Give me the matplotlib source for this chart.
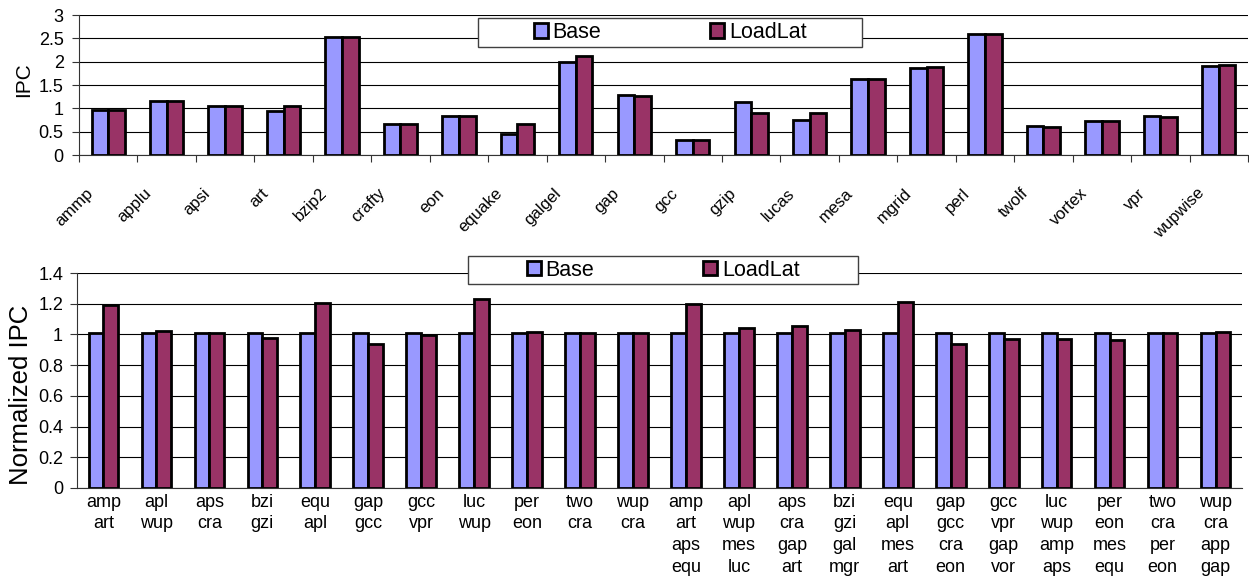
import matplotlib
matplotlib.use('Agg')
import matplotlib.pyplot as plt
import matplotlib.transforms as mtransforms
from matplotlib.patches import Patch, Rectangle
import numpy as np

plt.rcParams['font.family'] = ['Liberation Sans', 'DejaVu Sans']

base_color = '#9999ff'
lat_color = '#993366'

# Top chart: absolute IPC per benchmark
bench = ['ammp', 'applu', 'apsi', 'art', 'bzip2', 'crafty', 'eon', 'equake',
         'galgel', 'gap', 'gcc', 'gzip', 'lucas', 'mesa', 'mgrid', 'perl',
         'twolf', 'vortex', 'vpr', 'wupwise']
ipc_base = [0.96, 1.16, 1.05, 0.95, 2.52, 0.66, 0.84, 0.46, 1.99, 1.29,
            0.32, 1.13, 0.75, 1.63, 1.86, 2.60, 0.62, 0.73, 0.84, 1.91]
ipc_lat = [0.96, 1.16, 1.04, 1.06, 2.52, 0.66, 0.84, 0.66, 2.12, 1.27,
           0.32, 0.89, 0.91, 1.63, 1.88, 2.60, 0.61, 0.73, 0.81, 1.93]

# Bottom chart: normalized IPC per workload mix
mixes = ['amp\nart', 'apl\nwup', 'aps\ncra', 'bzi\ngzi', 'equ\napl',
         'gap\ngcc', 'gcc\nvpr', 'luc\nwup', 'per\neon', 'two\ncra',
         'wup\ncra',
         'amp\nart\naps\nequ', 'apl\nwup\nmes\nluc', 'aps\ncra\ngap\nart',
         'bzi\ngzi\ngal\nmgr', 'equ\napl\nmes\nart', 'gap\ngcc\ncra\neon',
         'gcc\nvpr\ngap\nvor', 'luc\nwup\namp\naps', 'per\neon\nmes\nequ',
         'two\ncra\nper\neon', 'wup\ncra\napp\ngap']
norm_base = [1.01] * 22
norm_lat = [1.194, 1.02, 1.01, 0.975, 1.205, 0.94, 0.996, 1.233, 1.018,
            1.007, 1.01, 1.20, 1.04, 1.057, 1.029, 1.213, 0.94, 0.97,
            0.97, 0.962, 1.007, 1.018]

W, H = 1249, 581
fig = plt.figure(figsize=(W / 100, H / 100), dpi=100)


def px_axes(x0, y0, x1, y1):
    return fig.add_axes([x0 / W, 1 - y1 / H, (x1 - x0) / W, (y1 - y0) / H])


def draw_bars(ax, base, lat, width):
    x = np.arange(len(base)) + 0.5
    kw = dict(edgecolor='black', linewidth=2.0, zorder=3)
    ax.bar(x - width / 2, base, width, color=base_color, **kw)
    ax.bar(x + width / 2, lat, width, color=lat_color, **kw)
    for s in ['top', 'right']:
        ax.spines[s].set_visible(False)
    ax.spines['left'].set_color('#333333')
    ax.spines['bottom'].set_color('#333333')
    ax.yaxis.grid(True, color='black', linewidth=0.8, zorder=0)
    ax.set_axisbelow(True)
    ax.set_xlim(0, len(base))
    return x


def legend_box(x0, y0, x1, y1, fontsize, colspace):
    fig.patches.append(Rectangle((x0 / W, 1 - y1 / H), (x1 - x0) / W,
                                 (y1 - y0) / H, transform=fig.transFigure,
                                 facecolor='white', edgecolor='#404040',
                                 linewidth=1.0, zorder=5))
    handles = [Patch(facecolor=base_color, edgecolor='black', linewidth=2.0),
               Patch(facecolor=lat_color, edgecolor='black', linewidth=2.0)]
    leg = fig.legend(handles, ['Base', 'LoadLat'], loc='center',
                     bbox_to_anchor=((x0 + x1) / 2 / W, 1 - (y0 + y1) / 2 / H),
                     ncol=2, frameon=False, fontsize=fontsize,
                     handlelength=0.65, handleheight=0.65,
                     handletextpad=0.2, columnspacing=colspace,
                     borderpad=0, borderaxespad=0)
    leg.set_zorder(6)


# ---- top chart ----
ax1 = px_axes(79, 15, 1248, 155)
x1 = draw_bars(ax1, ipc_base, ipc_lat, 0.285)
ax1.set_ylim(0, 3)
ax1.set_yticks([0, 0.5, 1, 1.5, 2, 2.5, 3])
ax1.set_yticklabels(['0', '0.5', '1', '1.5', '2', '2.5', '3'])
ax1.set_xticks(np.arange(len(bench) + 1))
ax1.set_xticklabels([])
ax1.set_xticks(x1, minor=True)
ax1.set_xticklabels(bench, minor=True, rotation=45, ha='right', va='top',
                    fontsize=12)
ax1.tick_params(axis='x', which='major', length=5, direction='out',
                color='#333333')
ax1.tick_params(axis='x', which='minor', length=0, pad=22)
ax1.tick_params(axis='y', length=5, pad=6, labelsize=13, color='#333333')
shift = mtransforms.ScaledTranslation(-0.12, 0, fig.dpi_scale_trans)
for lab in ax1.get_xticklabels(minor=True):
    lab.set_transform(lab.get_transform() + shift)
ax1.set_ylabel('IPC', fontsize=15)
ax1.yaxis.set_label_coords(-0.0393, 0.536)
legend_box(478, 18, 862, 47, 15.5, 5.1)

# ---- bottom chart ----
ax2 = px_axes(77, 273, 1242, 488)
x2 = draw_bars(ax2, norm_base, norm_lat, 0.28)
ax2.set_ylim(0, 1.4)
ax2.set_yticks([0, 0.2, 0.4, 0.6, 0.8, 1.0, 1.2, 1.4])
ax2.set_yticklabels(['0', '0.2', '0.4', '0.6', '0.8', '1', '1.2', '1.4'])
ax2.set_xticks(x2)
ax2.set_xticklabels(mixes, fontsize=13, linespacing=1.38, va='top')
ax2.tick_params(axis='x', length=0, pad=4)
ax2.tick_params(axis='y', length=5, pad=5, labelsize=13, color='#333333')
ax2.set_ylabel('Normalized IPC', fontsize=18.5)
ax2.yaxis.set_label_coords(-0.0378, 0.433)
legend_box(468, 256, 858, 284, 15.5, 5.1)

fig.savefig('out.png', dpi=100)
